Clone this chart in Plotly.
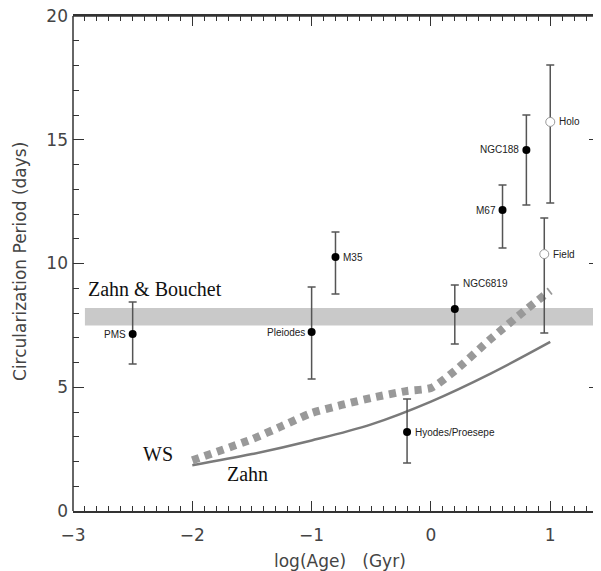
import plotly.graph_objects as go

# --- data ---
clusters = ["PMS", "Pleiodes", "M35", "Hyodes/Proesepe", "NGC6819", "M67", "NGC188"]
cl_x = [-2.5, -1.0, -0.8, -0.2, 0.2, 0.6, 0.8]
cl_y = [7.15, 7.23, 10.26, 3.19, 8.16, 12.16, 14.59]
cl_eplus = [1.29, 1.82, 1.01, 1.34, 0.97, 1.01, 1.41]
cl_eminus = [1.21, 1.90, 1.49, 1.25, 1.41, 1.53, 2.23]

open_names = ["Holo", "Field"]
open_x = [1.0, 0.95]
open_y = [15.72, 10.38]
open_eplus = [2.30, 1.46]
open_eminus = [3.28, 3.19]

zb_band_x = [-2.9, 1.4]
zb_band_y = [7.5, 8.2]

ws_x = [-2.0, -1.5, -1.25, -1.0, -0.5, -0.2, 0.0, 0.2, 0.5, 0.8, 1.0]
ws_y = [2.05, 2.9, 3.43, 3.96, 4.57, 4.85, 4.97, 5.66, 6.95, 8.15, 8.9]

zahn_x = [-2.0, -1.5, -1.0, -0.5, 0.0, 0.5, 1.0]
zahn_y = [1.85, 2.3, 2.85, 3.5, 4.42, 5.55, 6.83]

x_ticks = [-3, -2, -1, 0, 1]
x_ticktext = ["\u22123", "\u22122", "\u22121", "0", "1"]
y_ticks = [0, 5, 10, 15, 20]

fig = go.Figure()

# Zahn & Bouchet band
fig.add_shape(type="rect", xref="x", yref="y",
              x0=zb_band_x[0], x1=zb_band_x[1], y0=zb_band_y[0], y1=zb_band_y[1],
              fillcolor="#c9c9c9", line=dict(width=0), layer="below")

# WS thick dashed curve
fig.add_trace(go.Scatter(x=ws_x, y=ws_y, mode="lines",
                         line=dict(color="#999999", width=8, dash="7px,6px", shape="spline", smoothing=0.6),
                         hoverinfo="skip", showlegend=False))
# Zahn solid curve
fig.add_trace(go.Scatter(x=zahn_x, y=zahn_y, mode="lines",
                         line=dict(color="#7a7a7a", width=2.5, shape="spline", smoothing=1),
                         hoverinfo="skip", showlegend=False))
# invisible trace anchoring the top (mirror) axis
fig.add_trace(go.Scatter(x=zahn_x, y=zahn_y, mode="markers", xaxis="x2", yaxis="y",
                         marker=dict(size=1, opacity=0), hoverinfo="skip", showlegend=False))

# clusters (filled)
fig.add_trace(go.Scatter(x=cl_x, y=cl_y, mode="markers",
                         marker=dict(color="black", size=8),
                         error_y=dict(type="data", symmetric=False, array=cl_eplus, arrayminus=cl_eminus,
                                      color="#555555", thickness=1.5, width=4),
                         showlegend=False))
# open circles
fig.add_trace(go.Scatter(x=open_x, y=open_y, mode="markers",
                         marker=dict(color="white", size=9, symbol="circle",
                                     line=dict(color="#999999", width=1)),
                         error_y=dict(type="data", symmetric=False, array=open_eplus, arrayminus=open_eminus,
                                      color="#555555", thickness=1.5, width=4),
                         showlegend=False))

lab_font = dict(family="Liberation Sans, Arial, sans-serif", size=10, color="#222222")
label_side = {"PMS": "left", "Pleiodes": "left", "M35": "right", "Hyodes/Proesepe": "right",
              "NGC6819": "right", "M67": "left", "NGC188": "left"}
for n, xv, yv, ep in zip(clusters, cl_x, cl_y, cl_eplus):
    if n == "NGC6819":
        fig.add_annotation(x=xv, y=yv + ep, text=n, showarrow=False, xanchor="left",
                           yanchor="bottom", xshift=6, yshift=-6, font=lab_font)
    elif label_side[n] == "left":
        fig.add_annotation(x=xv, y=yv, text=n, showarrow=False, xanchor="right",
                           xshift=-5, font=lab_font)
    else:
        fig.add_annotation(x=xv, y=yv, text=n, showarrow=False, xanchor="left",
                           xshift=6, font=lab_font)
for n, xv, yv in zip(open_names, open_x, open_y):
    fig.add_annotation(x=xv, y=yv, text=n, showarrow=False, xanchor="left",
                       xshift=7, font=lab_font)

serif = dict(family="Liberation Serif, Times New Roman, serif", size=20, color="#111111")
fig.add_annotation(x=-2.89, y=8.97, text="Zahn & Bouchet", showarrow=False, xanchor="left", font=serif)
fig.add_annotation(x=-2.29, y=2.3, text="WS", showarrow=False, font=serif)
fig.add_annotation(x=-1.54, y=1.5, text="Zahn", showarrow=False, font=serif)

# frame lines (left and top)
fig.add_shape(type="line", xref="paper", yref="paper", x0=0, x1=0, y0=0, y1=1,
              line=dict(color="#333333", width=1.5))
fig.add_shape(type="line", xref="paper", yref="paper", x0=0, x1=1, y0=1, y1=1,
              line=dict(color="#333333", width=1.5))

axis_font = dict(family="DejaVu Sans, sans-serif", size=17, color="#444444")

# axis titles
fig.add_annotation(xref="paper", yref="paper", x=-0.1234, y=0.505, text="Circularization Period (days)",
                   textangle=-90, showarrow=False, font=axis_font)
fig.add_annotation(xref="paper", yref="paper", x=0.507, y=-0.125, text="log(Age)   (Gyr)",
                   showarrow=False, font=axis_font)

common_x = dict(range=[-3, 1.417], ticks="inside", ticklen=10, tickwidth=1, tickcolor="#333333",
                minor=dict(dtick=0.1, ticks="inside", ticklen=5, tickcolor="#333333", tickwidth=1),
                showline=True, linecolor="#333333", linewidth=1.5,
                showgrid=False, zeroline=False, automargin=False)
fig.update_layout(
    xaxis=dict(tickvals=x_ticks, ticktext=x_ticktext, tickfont=axis_font, ticklabelstandoff=8,
               mirror="ticks", **common_x),
    xaxis2=dict(overlaying="x", side="top", anchor="y", tickvals=x_ticks,
                showticklabels=False, **common_x),
)
fig.update_yaxes(range=[0, 20], tickvals=y_ticks,
                 ticks="inside", ticklen=11, tickwidth=1, tickcolor="#333333",
                 minor=dict(dtick=1, ticks="inside", ticklen=6, tickcolor="#333333", tickwidth=1),
                 showline=False, mirror="ticks",
                 showgrid=False, zeroline=False, tickfont=axis_font, ticklabelstandoff=4,
                 ticklabeloverflow="allow", automargin=False)

# the page places the figure 8px in from the top-left corner
fig.update_layout(width=593, height=563, margin=dict(l=65, r=1, t=8, b=60),
                  plot_bgcolor="white", paper_bgcolor="white", showlegend=False)

fig.write_html("out.html")
